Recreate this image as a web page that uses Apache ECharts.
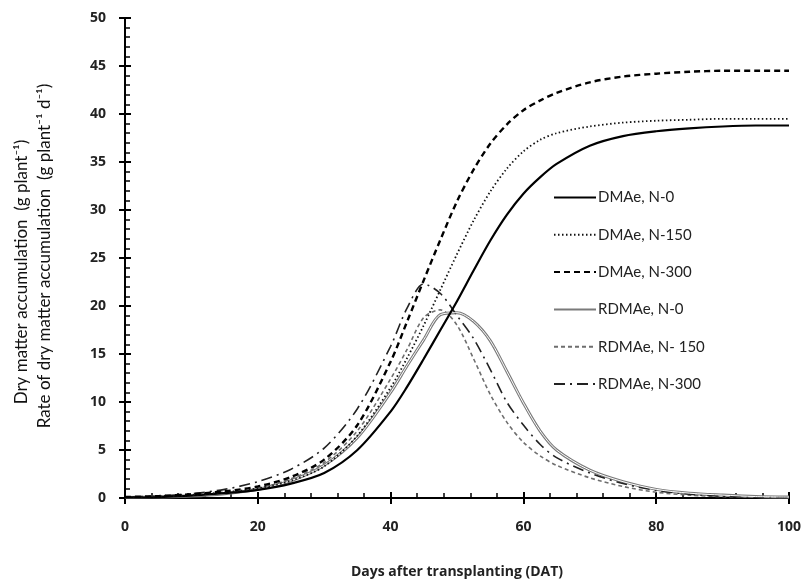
<!DOCTYPE html>
<html>
<head>
<meta charset="utf-8">
<script src="https://cdn.jsdelivr.net/npm/echarts@6/dist/echarts.min.js"></script>
<style>
  html, body { margin: 0; padding: 0; background: #fff; }
  #main { width: 804px; height: 584px; }
</style>
</head>
<body>
<div id="main"></div>
<script>
const chart = echarts.init(document.getElementById('main'))

// days after transplanting
const days = [0, 5, 10, 15, 20, 25, 30, 35, 40, 42.5, 45, 47.5, 50, 52.5, 55, 57.5, 60, 62.5, 65, 70, 75, 80, 85, 90, 95, 100]

// dry matter accumulation (g plant-1)
const dmaN0   = [0.05, 0.1, 0.25, 0.5, 0.85, 1.5, 2.6, 5.0, 9.0, 11.6, 14.5, 17.5, 20.5, 23.7, 26.8, 29.5, 31.7, 33.4, 34.8, 36.7, 37.7, 38.2, 38.5, 38.7, 38.8, 38.8]
const dmaN150 = [0.1, 0.15, 0.3, 0.6, 1.0, 1.8, 3.3, 6.5, 11.5, 14.6, 18.0, 21.7, 25.4, 28.9, 31.9, 34.3, 36.1, 37.3, 38.0, 38.7, 39.1, 39.3, 39.4, 39.5, 39.5, 39.5]
const dmaN300 = [0.1, 0.2, 0.4, 0.7, 1.2, 2.2, 4.0, 7.6, 14.2, 18.4, 22.7, 26.9, 30.9, 34.2, 36.9, 38.9, 40.4, 41.4, 42.2, 43.3, 43.9, 44.2, 44.4, 44.5, 44.5, 44.5]

// rate of dry matter accumulation (g plant-1 d-1)
const rdmaN0   = [0.05, 0.1, 0.2, 0.45, 0.9, 1.8, 3.4, 6.3, 11.0, 13.8, 16.5, 19.1, 19.3, 18.4, 16.4, 13.2, 9.9, 7.0, 5.0, 2.9, 1.7, 0.9, 0.5, 0.3, 0.15, 0.1]
const rdmaN150 = [0.05, 0.1, 0.25, 0.5, 1.0, 2.0, 3.7, 7.0, 12.4, 15.5, 18.8, 19.6, 18.0, 14.5, 10.8, 7.9, 5.8, 4.4, 3.4, 2.1, 1.2, 0.6, 0.3, 0.15, 0.1, 0.05]
const rdmaN300 = [0.1, 0.2, 0.45, 0.9, 1.7, 3.0, 5.2, 9.3, 15.8, 19.8, 22.3, 21.3, 19.0, 16.6, 13.4, 10.0, 7.6, 5.6, 4.2, 2.6, 1.5, 0.8, 0.4, 0.2, 0.1, 0.05]

const seriesNames = ['DMAe, N-0', 'DMAe, N-150', 'DMAe, N-300', 'RDMAe, N-0', 'RDMAe, N- 150', 'RDMAe, N-300']
const seriesValues = [dmaN0, dmaN150, dmaN300, rdmaN0, rdmaN150, rdmaN300]

const lineStyles = [
  { color: '#000', width: 2.2, type: 'solid' },
  { color: '#111', width: 1.8, type: [1.5, 2.5] },
  { color: '#000', width: 2.4, type: [6, 4] },
  { color: '#7a7a7a', width: 3, type: 'solid' },
  { color: '#6e6e6e', width: 1.6, type: [4, 3] },
  { color: '#222', width: 1.6, type: [11, 5, 2, 5] }
]

let series = []
seriesNames.forEach((name, i) => {
  series.push({
    name: name,
    type: 'line',
    smooth: 0.3,
    symbol: 'none',
    lineStyle: lineStyles[i],
    itemStyle: { color: lineStyles[i].color },
    data: days.map((d, k) => [d, seriesValues[i][k]]),
    z: i < 3 ? 3 : 2
  })
})
// white core of the double grey line (RDMAe, N-0)
series.push({
  name: 'core',
  type: 'line',
  smooth: 0.3,
  symbol: 'none',
  silent: true,
  lineStyle: { color: '#fff', width: 1 },
  data: days.map((d, k) => [d, rdmaN0[k]]),
  z: 2
})

const tickFont = {
  color: '#222',
  fontFamily: 'Open Sans',
  fontWeight: 'bold',
  fontSize: 14
}

let legendData = seriesNames.map((name, i) => ({
  name: name,
  itemStyle: { opacity: 0 },
  lineStyle: i == 3 ? { width: 2 } : {}
}))

let option = {
  backgroundColor: '#fff',
  animation: false,
  grid: {
    left: 125,
    right: 13,
    top: 18,
    bottom: 84
  },
  legend: {
    data: legendData,
    orient: 'vertical',
    left: 548,
    top: 185,
    itemWidth: 42,
    itemHeight: 14,
    itemGap: 22.3,
    itemStyle: { opacity: 0 },
    textStyle: {
      color: '#222',
      fontFamily: 'Lato',
      fontSize: 15,
      padding: [0, 0, 0, -3]
    }
  },
  xAxis: [
    {
      type: 'value',
      min: 0,
      max: 100,
      interval: 20,
      axisLine: { lineStyle: { color: '#000', width: 2 } },
      axisTick: { inside: true, length: 6, lineStyle: { color: '#000', width: 2 } },
      minorTick: { show: true, splitNumber: 5, length: 5, lineStyle: { color: '#000', width: 1.5 } },
      axisLabel: Object.assign({ margin: 22 }, tickFont),
      splitLine: { show: false },
      name: 'Days after transplanting (DAT)',
      nameLocation: 'middle',
      nameGap: 67,
      nameTextStyle: {
        color: '#222',
        fontFamily: 'Open Sans',
        fontWeight: 'bold',
        fontSize: 14
      }
    },
    {
      type: 'value',
      position: 'bottom',
      min: 0,
      max: 100,
      interval: 20,
      axisLine: { show: false },
      axisTick: { inside: false, length: 6, lineStyle: { color: '#000', width: 2 } },
      axisLabel: { show: false },
      splitLine: { show: false }
    }
  ],
  yAxis: [
    {
      type: 'value',
      min: 0,
      max: 50,
      interval: 5,
      axisLine: { show: true, lineStyle: { color: '#000', width: 2 } },
      axisTick: { show: true, inside: true, length: 6, lineStyle: { color: '#000', width: 2 } },
      minorTick: { show: true, splitNumber: 5, length: 5, lineStyle: { color: '#000', width: 1.5 } },
      axisLabel: Object.assign({ margin: 19 }, tickFont),
      splitLine: { show: false }
    },
    {
      type: 'value',
      position: 'left',
      min: 0,
      max: 50,
      interval: 5,
      axisLine: { show: false },
      axisTick: { show: true, inside: false, length: 6, lineStyle: { color: '#000', width: 2 } },
      axisLabel: { show: false },
      splitLine: { show: false }
    }
  ],
  graphic: [
    {
      type: 'text',
      x: 22,
      y: 272,
      rotation: Math.PI / 2,
      style: {
        text: 'Dry matter accumulation  (g plant\u207B\u00B9)',
        fill: '#111',
        font: '17px Lato',
        align: 'center',
        verticalAlign: 'middle'
      }
    },
    {
      type: 'text',
      x: 45,
      y: 256,
      rotation: Math.PI / 2,
      style: {
        text: 'Rate of dry matter accumulation  (g plant\u207B\u00B9 d\u207B\u00B9)',
        fill: '#111',
        font: '17px Lato',
        align: 'center',
        verticalAlign: 'middle'
      }
    }
  ],
  series: series
}
chart.setOption(option)
</script>
</body>
</html>
